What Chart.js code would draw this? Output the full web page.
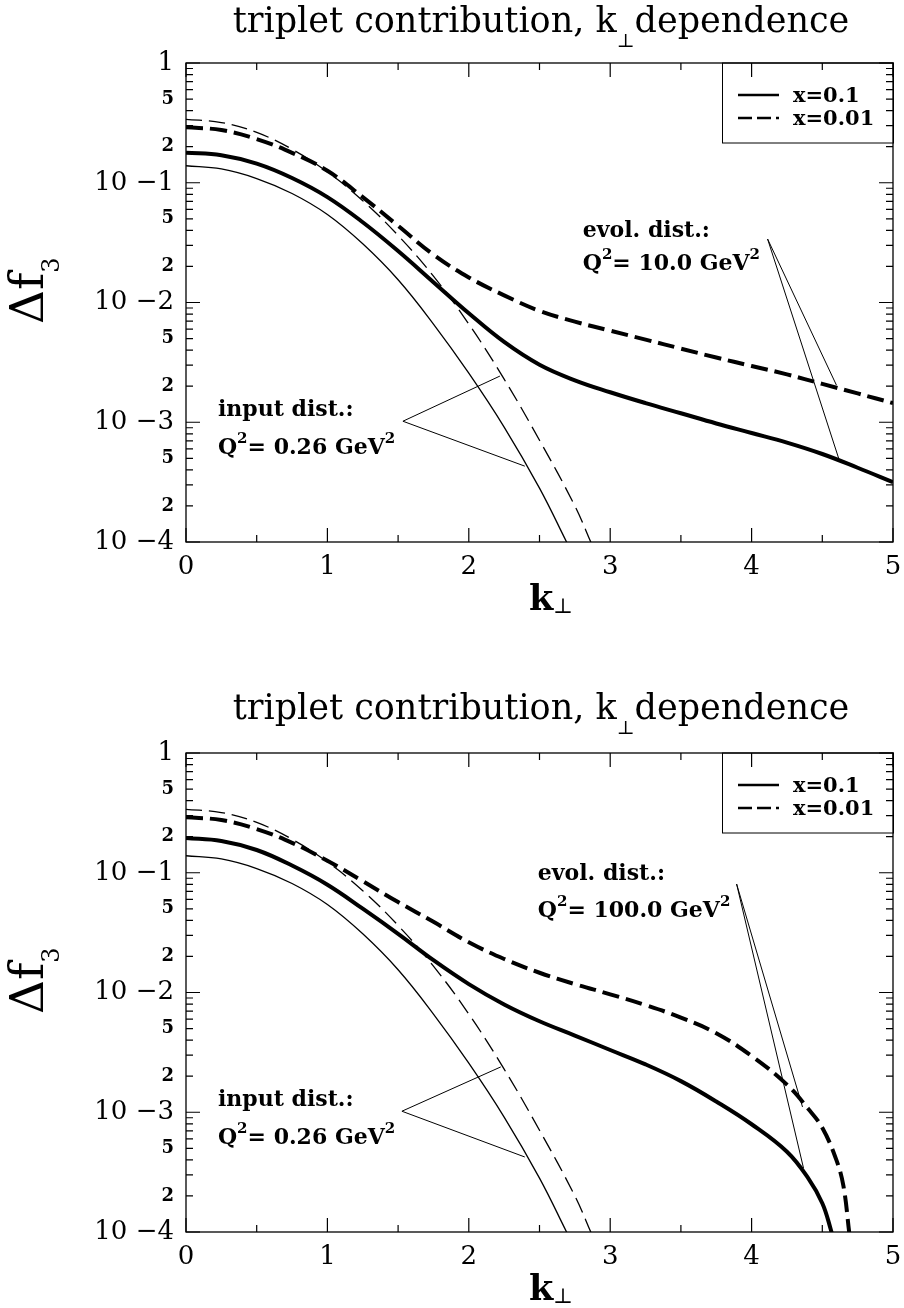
<!DOCTYPE html>
<html>
<head>
<meta charset="utf-8">
<script src="https://cdn.jsdelivr.net/npm/chart.js@4.4.0/dist/chart.umd.min.js"></script>
<style>
  html, body { margin: 0; padding: 0; background: #fff; }
  #wrap { position: relative; width: 904px; height: 1308px; overflow: hidden; }
  canvas { position: absolute; left: 0; }
</style>
</head>
<body>
<div id="wrap">
  <canvas id="topChart" width="904" height="618" style="top:0"></canvas>
  <canvas id="bottomChart" width="904" height="618" style="top:690px"></canvas>
</div>
<script>
// ---- data ----
var kGrid = [0, 0.25, 0.5, 0.75, 1, 1.25, 1.5, 1.75, 2, 2.25, 2.5, 2.75, 3, 3.25, 3.5, 3.75, 4, 4.25, 4.5, 4.75, 5];

// input distribution, Q^2 = 0.26 GeV^2 (same in both panels)
var kInputX01 = [0, 0.25, 0.5, 0.75, 1, 1.25, 1.5, 1.75, 2, 2.25, 2.5, 2.7];
var inputX01 = [0.1387, 0.1303, 0.1084, 0.0813, 0.0543, 0.0309, 0.01549, 0.00661, 0.00257, 0.000912, 0.000282, 0.0000955];
var kInputX001 = [0, 0.25, 0.5, 0.75, 1, 1.25, 1.5, 1.75, 2, 2.25, 2.5, 2.75, 2.87];
var inputX001 = [0.3388, 0.3184, 0.263, 0.1905, 0.123, 0.0708, 0.0363, 0.0166, 0.00661, 0.00229, 0.000708, 0.0002, 0.0000955];

// evolved, Q^2 = 10 GeV^2
var evol10X01 = [0.1782, 0.1698, 0.1445, 0.1096, 0.0759, 0.0468, 0.0269, 0.01479, 0.00813, 0.00468, 0.00302, 0.00224, 0.00178, 0.001445, 0.001189, 0.000977, 0.000813, 0.000676, 0.000543, 0.000417, 0.000316];
var evol10X001 = [0.2904, 0.2754, 0.2317, 0.1778, 0.1259, 0.0759, 0.0437, 0.0251, 0.0162, 0.01148, 0.00851, 0.00692, 0.00582, 0.0049, 0.00412, 0.00347, 0.00295, 0.00251, 0.00209, 0.00174, 0.001445];

// evolved, Q^2 = 100 GeV^2
var kEvol100X01 = [0, 0.25, 0.5, 0.75, 1, 1.25, 1.5, 1.75, 2, 2.25, 2.5, 2.75, 3, 3.25, 3.5, 3.75, 4, 4.25, 4.4, 4.5, 4.56, 4.59];
var evol100X01 = [0.195, 0.1841, 0.1549, 0.1148, 0.0794, 0.0501, 0.0309, 0.0186, 0.01175, 0.00794, 0.00575, 0.00437, 0.00331, 0.00251, 0.00182, 0.00123, 0.000794, 0.000468, 0.000282, 0.000174, 0.000105, 0.0000759];
var kEvol100X001 = [0, 0.25, 0.5, 0.75, 1, 1.25, 1.5, 1.75, 2, 2.25, 2.5, 2.75, 3, 3.25, 3.5, 3.75, 4, 4.25, 4.4, 4.5, 4.6, 4.65, 4.69, 4.7];
var evol100X001 = [0.2904, 0.2754, 0.2317, 0.1778, 0.1259, 0.0851, 0.0569, 0.0389, 0.0263, 0.01905, 0.01462, 0.01175, 0.00966, 0.00785, 0.00617, 0.00457, 0.00295, 0.0017, 0.00107, 0.000741, 0.000398, 0.00024, 0.0001, 0.00008];

// pointer lines of the labels (end on curve, vertex, end on curve)
var topInputPointerK = [2.22, 1.534, 2.396];
var topInputPointerV = [0.00243, 0.00102, 0.00043];
var topEvolPointerK = [4.6, 4.113, 4.62];
var topEvolPointerV = [0.00204, 0.0339, 0.000482];
var botInputPointerK = [2.226, 1.527, 2.396];
var botInputPointerV = [0.00239, 0.00102, 0.000423];
var botEvolPointerK = [4.36, 3.894, 4.367];
var botEvolPointerV = [0.001107, 0.0805, 0.000342];

// ticks
var xTickValues = [0, 0.5, 1, 1.5, 2, 2.5, 3, 3.5, 4, 4.5, 5];
var xTickLabels = ['0', '1', '2', '3', '4', '5'];
var yDecades = [1e-4, 1e-3, 1e-2, 1e-1];
var yMantissas = [1, 2, 3, 4, 5, 6, 7, 8, 9];
var yMajorLabels = ['10 \u22124', '10 \u22123', '10 \u22122', '10 \u22121', '1'];
var yLabelledMantissas = [2, 5];

var legendLabels = ['x=0.1', 'x=0.01'];

var SERIF = '"DejaVu Serif", "Liberation Serif", serif';

function pts(xs, ys) {
  return xs.map(function(x, i) { return { x: x, y: ys[i] }; });
}

function curve(data, width, dash) {
  return {
    data: data,
    borderColor: '#000',
    borderWidth: width,
    borderDash: dash || [],
    pointRadius: 0,
    fill: false,
    tension: 0.4
  };
}

function pointer(data) {
  return { data: data, borderColor: '#000', borderWidth: 1, pointRadius: 0, fill: false, tension: 0 };
}

function yTicks() {
  var out = [];
  for (var d = 0; d < yDecades.length; d++) {
    for (var j = 0; j < yMantissas.length; j++) {
      var m = yMantissas[j];
      var lab = m === 1 ? yMajorLabels[d] : (yLabelledMantissas.indexOf(m) >= 0 ? String(m) : '');
      out.push({ value: m * yDecades[d], lab: lab, big: m === 1 });
    }
  }
  out.push({ value: 1, lab: yMajorLabels[yMajorLabels.length - 1], big: true });
  return out;
}

function drawRich(ctx, parts, x, y) {
  parts.forEach(function(p) {
    ctx.font = p.font;
    ctx.fillText(p.text, x, y + (p.dy || 0));
    x += ctx.measureText(p.text).width;
  });
  return x;
}

function richWidth(ctx, parts) {
  var w = 0;
  parts.forEach(function(p) { ctx.font = p.font; w += ctx.measureText(p.text).width; });
  return w;
}

function qLine(value) {
  var f = 'bold 22px ' + SERIF, s = 'bold 15px ' + SERIF;
  return [
    { text: 'Q', font: f }, { text: '2', font: s, dy: -11 },
    { text: '= ' + value + ' GeV', font: f }, { text: '2', font: s, dy: -11 }
  ];
}

// frame, inward ticks, titles, labels, legend
var decor = {
  id: 'decor',
  afterDatasetsDraw: function(chart) {
    var ctx = chart.ctx, a = chart.chartArea;
    var xs = chart.scales.x, ys = chart.scales.y;
    var o = chart.options.plugins.decor;
    ctx.save();
    ctx.strokeStyle = '#000';
    ctx.fillStyle = '#000';
    ctx.textBaseline = 'alphabetic';
    ctx.textAlign = 'left';

    // legend box
    var bl = a.right - 171, bt = a.top, bw = 171, bh = 80;
    ctx.fillStyle = '#fff';
    ctx.fillRect(bl, bt, bw, bh);
    ctx.fillStyle = '#000';
    ctx.lineWidth = 1;
    ctx.strokeRect(bl + 0.5, bt, bw, bh);
    ctx.lineWidth = 2.5;
    ctx.beginPath(); ctx.setLineDash([]);
    ctx.moveTo(bl + 16, bt + 32); ctx.lineTo(bl + 57, bt + 32); ctx.stroke();
    ctx.beginPath(); ctx.setLineDash([14, 5]);
    ctx.moveTo(bl + 16, bt + 55); ctx.lineTo(bl + 57, bt + 55); ctx.stroke();
    ctx.setLineDash([]);
    ctx.font = 'bold 21px ' + SERIF;
    ctx.fillText(legendLabels[0], bl + 71, bt + 39);
    ctx.fillText(legendLabels[1], bl + 71, bt + 62);

    // frame
    ctx.lineWidth = 1.3;
    ctx.strokeRect(a.left, a.top, a.right - a.left, a.bottom - a.top);

    // ticks, drawn inward on all four sides
    ctx.lineWidth = 1.2;
    ctx.beginPath();
    xs.ticks.forEach(function(t) {
      var px = xs.getPixelForValue(t.value);
      var len = Number.isInteger(t.value) ? 14 : 7;
      ctx.moveTo(px, a.bottom); ctx.lineTo(px, a.bottom - len);
      ctx.moveTo(px, a.top); ctx.lineTo(px, a.top + len);
    });
    ys.ticks.forEach(function(t) {
      var py = ys.getPixelForValue(t.value);
      var len = t.big ? 14 : 7;
      ctx.moveTo(a.left, py); ctx.lineTo(a.left + len, py);
      ctx.moveTo(a.right, py); ctx.lineTo(a.right - len, py);
    });
    ctx.stroke();

    // title
    var tf = '35px ' + SERIF;
    var title = [
      { text: 'triplet contribution, k', font: tf },
      { text: '\u22a5', font: '19px ' + SERIF, dy: 15 },
      { text: 'dependence', font: tf }
    ];
    var tw = richWidth(ctx, title);
    drawRich(ctx, title, 541 - tw / 2, o.titleBaseline);

    // y axis title
    ctx.save();
    ctx.translate(43, 324);
    ctx.rotate(-Math.PI / 2);
    drawRich(ctx, [
      { text: '\u0394f', font: '47px ' + SERIF },
      { text: '3', font: '24px ' + SERIF, dy: 16 }
    ], 0, 0);
    ctx.restore();

    // x axis title
    drawRich(ctx, [
      { text: 'k', font: 'bold 35px ' + SERIF },
      { text: '\u22a5', font: '21px ' + SERIF, dy: 3 }
    ], 529, a.bottom + 68);

    // curve labels
    var f = 'bold 22px ' + SERIF;
    o.notes.forEach(function(n) {
      var nx = xs.getPixelForValue(n.k), ny = ys.getPixelForValue(n.v);
      drawRich(ctx, [{ text: n.head, font: f }], nx, ny);
      drawRich(ctx, qLine(n.q), nx, ny + n.gap);
    });
    ctx.restore();
  }
};

function makeChart(id, evolX01K, evolX01, evolX001K, evolX001, inPtr, evPtr, notes, titleBaseline) {
  return new Chart(document.getElementById(id), {
    type: 'line',
    data: {
      datasets: [
        curve(pts(kInputX01, inputX01), 1.3),
        curve(pts(kInputX001, inputX001), 1.3, [16, 7]),
        curve(pts(evolX01K, evolX01), 4),
        curve(pts(evolX001K, evolX001), 4, [17, 7]),
        pointer(inPtr),
        pointer(evPtr)
      ]
    },
    options: {
      responsive: false,
      animation: false,
      events: [],
      layout: { padding: { top: 63, right: 11, left: 0, bottom: 0 } },
      scales: {
        x: {
          type: 'linear', min: 0, max: 5,
          grid: { display: false, drawTicks: false },
          border: { display: false },
          afterBuildTicks: function(s) { s.ticks = xTickValues.map(function(v) { return { value: v }; }); },
          afterFit: function(s) { s.height = 76; s.paddingLeft = 0; s.paddingRight = 0; },
          ticks: {
            autoSkip: false, maxRotation: 0, padding: 10, color: '#000',
            font: { family: SERIF, size: 26 },
            callback: function(v) { return Number.isInteger(v) ? xTickLabels[v] : ''; }
          }
        },
        y: {
          type: 'logarithmic', min: 1e-4, max: 1,
          grid: { display: false, drawTicks: false },
          border: { display: false },
          afterBuildTicks: function(s) { s.ticks = yTicks(); },
          afterFit: function(s) { s.width = 186; s.paddingTop = 0; s.paddingBottom = 0; },
          ticks: {
            autoSkip: false, padding: 12, color: '#000',
            font: function(c) {
              return (c.tick && c.tick.big) ? { family: SERIF, size: 26 } : { family: SERIF, size: 18, weight: 'bold' };
            },
            callback: function(v, i, t) { return t[i].lab; }
          }
        }
      },
      plugins: {
        legend: { display: false },
        tooltip: { enabled: false },
        decor: { notes: notes, titleBaseline: titleBaseline }
      }
    },
    plugins: [decor]
  });
}

makeChart('topChart', kGrid, evol10X01, kGrid, evol10X001,
  pts(topInputPointerK, topInputPointerV), pts(topEvolPointerK, topEvolPointerV),
  [
    { head: 'input dist.:', q: '0.26', k: 0.226, v: 0.00112, gap: 38 },
    { head: 'evol. dist.:', q: '10.0', k: 2.806, v: 0.0352, gap: 33 }
  ], 32);

makeChart('bottomChart', kEvol100X01, evol100X01, kEvol100X001, evol100X001,
  pts(botInputPointerK, botInputPointerV), pts(botEvolPointerK, botEvolPointerV),
  [
    { head: 'input dist.:', q: '0.26', k: 0.226, v: 0.00112, gap: 38 },
    { head: 'evol. dist.:', q: '100.0', k: 2.488, v: 0.0869, gap: 37 }
  ], 29);
</script>
</body>
</html>
